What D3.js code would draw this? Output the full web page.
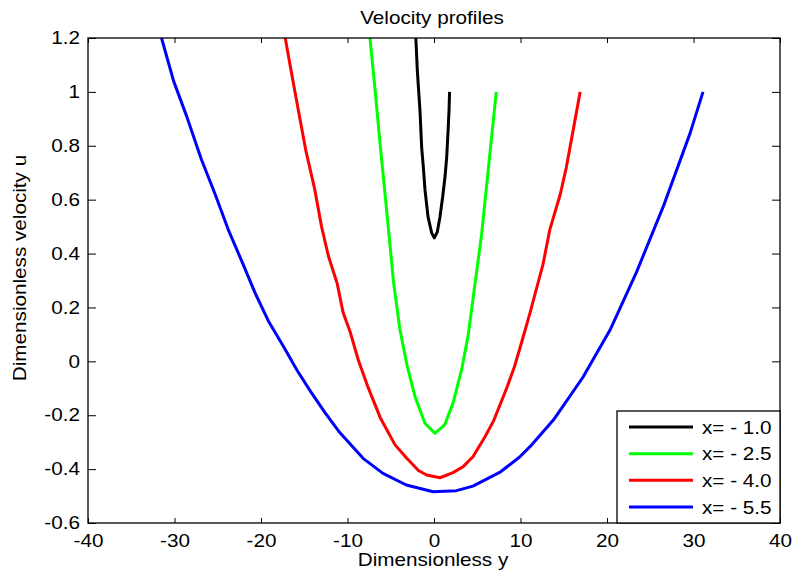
<!DOCTYPE html>
<html>
<head>
<meta charset="utf-8">
<script src="https://cdn.jsdelivr.net/npm/d3@7/dist/d3.min.js"></script>
<style>
  html, body { margin: 0; padding: 0; background: #fff; }
  svg { display: block; font-family: Arial, "Liberation Sans", sans-serif; }
</style>
</head>
<body>
<svg id="chart" width="796" height="579"></svg>
<script>
// Velocity profiles u(y) at four streamwise stations
const seriesNames = ["x= - 1.0", "x= - 2.5", "x= - 4.0", "x= - 5.5"];
const seriesColors = ["#000000", "#00ff00", "#ff0000", "#0000ff"];

const profileX10 = [
  [-2.1, 1.2], [-1.93, 1.08], [-1.62, 0.93], [-1.42, 0.79], [-1.27, 0.736],
  [-1.04, 0.636], [-0.69, 0.536], [-0.27, 0.477], [0.03, 0.458], [0.38, 0.48],
  [0.69, 0.536], [1.0, 0.61], [1.27, 0.684], [1.47, 0.758], [1.63, 0.858],
  [1.74, 0.933], [1.8, 1.0]
];
const profileX25 = [
  [-7.4, 1.2], [-6.85, 1.02], [-6.3, 0.83], [-5.75, 0.65], [-5.2, 0.47], [-4.7, 0.30], [-3.95, 0.12],
  [-3.15, -0.01], [-2.2, -0.13], [-1.05, -0.23], [0.1, -0.267], [1.25, -0.235],
  [2.2, -0.155], [3.2, -0.03], [3.97, 0.10], [4.75, 0.29], [5.5, 0.47],
  [6.3, 0.72], [7.2, 1.0]
];
const profileX40 = [
  [-17.2, 1.2], [-16.3, 1.04], [-15.5, 0.90], [-14.8, 0.78], [-13.8, 0.64],
  [-13.0, 0.50], [-12.2, 0.39], [-11.2, 0.29], [-10.5, 0.18], [-9.7, 0.11],
  [-8.75, 0.005], [-7.7, -0.09], [-6.2, -0.21], [-4.5, -0.31], [-3.15, -0.36],
  [-1.8, -0.405], [-0.85, -0.422], [0.7, -0.432], [2.2, -0.413], [3.4, -0.39],
  [4.5, -0.354], [5.9, -0.28], [6.9, -0.22], [8.4, -0.1], [9.3, -0.02],
  [10.1, 0.067], [11.1, 0.18], [12.6, 0.36], [13.4, 0.49], [14.6, 0.62],
  [15.3, 0.72], [16.1, 0.86], [16.9, 1.0]
];
const profileX55 = [
  [-31.5, 1.2], [-30.1, 1.04], [-28.6, 0.91], [-26.9, 0.75], [-25.3, 0.62],
  [-23.8, 0.49], [-22.2, 0.37], [-20.7, 0.255], [-19.15, 0.15], [-17.4, 0.055],
  [-15.8, -0.035], [-14.2, -0.115], [-12.6, -0.19], [-11.0, -0.26], [-8.2, -0.36],
  [-5.9, -0.416], [-3.2, -0.459], [-0.1, -0.484], [2.6, -0.48], [4.5, -0.463],
  [7.7, -0.41], [9.9, -0.355], [11.3, -0.31], [13.8, -0.218], [17.2, -0.06],
  [20.35, 0.116], [23.4, 0.33], [26.5, 0.574], [29.6, 0.846], [31.1, 1.0]
];
const profiles = [profileX10, profileX25, profileX40, profileX55];

const xTicks = [-40, -30, -20, -10, 0, 10, 20, 30, 40];
const yTicks = [-0.6, -0.4, -0.2, 0, 0.2, 0.4, 0.6, 0.8, 1, 1.2];

const plotLeft = 88, plotRight = 780, plotTop = 38, plotBottom = 523;
const svg = d3.select("#chart");

const x = d3.scaleLinear().domain([-40, 40]).range([plotLeft, plotRight]);
const y = d3.scaleLinear().domain([-0.6, 1.2]).range([plotBottom, plotTop]);

// Plain hyphen-minus for negative tick labels
const fmtX = v => String(v);
const fmtY = v => (Math.abs(v) < 1e-9 ? "0" : String(+v.toFixed(1)));

// Type is set at 18px and widened slightly
const fontSize = "18px";
const widen = "scale(1.15,1)";

const xTickLen = 5, yTickLen = 8;

const bottomAxis = svg.append("g").attr("transform", `translate(0,${plotBottom})`)
  .call(d3.axisBottom(x).tickValues(xTicks).tickSizeInner(-xTickLen).tickSizeOuter(0).tickPadding(11).tickFormat(fmtX));
const topAxis = svg.append("g").attr("transform", `translate(0,${plotTop})`)
  .call(d3.axisTop(x).tickValues(xTicks).tickSizeInner(-xTickLen).tickSizeOuter(0).tickFormat(""));
const leftAxis = svg.append("g").attr("transform", `translate(${plotLeft},0)`)
  .call(d3.axisLeft(y).tickValues(yTicks).tickSizeInner(-yTickLen).tickSizeOuter(0).tickPadding(7).tickFormat(fmtY));
const rightAxis = svg.append("g").attr("transform", `translate(${plotRight},0)`)
  .call(d3.axisRight(y).tickValues(yTicks).tickSizeInner(-yTickLen).tickSizeOuter(0).tickFormat(""));

[bottomAxis, topAxis, leftAxis, rightAxis].forEach(g => {
  g.select(".domain").remove();
  g.selectAll("line").attr("stroke", "#000").attr("stroke-width", 1);
  g.selectAll("text").attr("fill", "#000").attr("transform", widen)
    .style("font-size", fontSize)
    .style("font-family", "Arial, 'Liberation Sans', sans-serif");
});

// Profile curves, clipped to the plot box
svg.append("clipPath").attr("id", "plotClip")
  .append("rect").attr("x", plotLeft).attr("y", plotTop - 1)
  .attr("width", plotRight - plotLeft).attr("height", plotBottom - plotTop + 1);

const line = d3.line().x(d => x(d[0])).y(d => y(d[1]));
const curves = svg.append("g").attr("clip-path", "url(#plotClip)");
profiles.forEach((pts, i) => {
  curves.append("path")
    .datum(pts)
    .attr("d", line)
    .attr("fill", "none")
    .attr("stroke", seriesColors[i])
    .attr("stroke-width", 3)
    .attr("stroke-linejoin", "round");
});

// Plot frame
svg.append("rect")
  .attr("x", plotLeft).attr("y", plotTop)
  .attr("width", plotRight - plotLeft).attr("height", plotBottom - plotTop)
  .attr("fill", "none").attr("stroke", "#000").attr("stroke-width", 1.3);

// Text helper: position a label, then widen it about its anchor
function label(tx, ty, str, anchor, rotate) {
  const g = svg.append("g").attr("transform", `translate(${tx},${ty})${rotate ? ` rotate(${rotate})` : ""}`);
  g.append("text").attr("transform", widen).attr("text-anchor", anchor || "start")
    .style("font-size", fontSize).attr("fill", "#000").text(str);
}

// Title and axis labels
label(432, 24, "Velocity profiles", "middle");
label(433, 566, "Dimensionless y", "middle");
label(26, 268, "Dimensionless velocity u", "middle", -90);

// Legend
const lg = { x0: 617, y0: 411, x1: plotRight, y1: plotBottom };
svg.append("rect")
  .attr("x", lg.x0).attr("y", lg.y0)
  .attr("width", lg.x1 - lg.x0).attr("height", lg.y1 - lg.y0)
  .attr("fill", "#fff").attr("stroke", "#000").attr("stroke-width", 1.3);
const rowY = d3.scalePoint().domain(seriesNames).range([427, 507]);
seriesNames.forEach((name, i) => {
  const ry = rowY(name);
  svg.append("line")
    .attr("x1", 629).attr("x2", 693).attr("y1", ry).attr("y2", ry)
    .attr("stroke", seriesColors[i]).attr("stroke-width", 3);
  label(702, ry + 6.5, name, "start");
});
</script>
</body>
</html>
